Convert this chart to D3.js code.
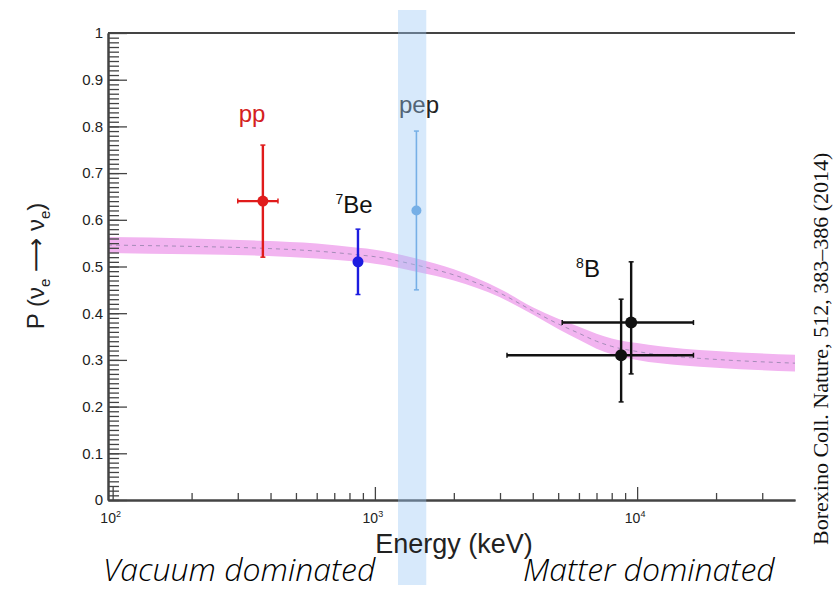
<!DOCTYPE html>
<html>
<head>
<meta charset="utf-8">
<script src="https://cdn.jsdelivr.net/npm/d3@7"></script>
<style>
  body { margin: 0; background: #fff; }
  svg { display: block; }
</style>
</head>
<body>
<div class="chart"></div>
<script>
// chart size
const WIDTH = 834;
const HEIGHT = 589;

// MSW-LMA prediction band
const curveE = [96, 200, 374, 600, 862, 1000, 1440, 2000, 3000, 4000, 5000, 6000, 7000, 8000, 10000, 15000, 20000, 40000];
const curveP = [0.546, 0.543, 0.539, 0.533, 0.525, 0.521, 0.503, 0.482, 0.443, 0.405, 0.377, 0.357, 0.340, 0.329, 0.318, 0.306, 0.301, 0.293];
const curveHalf = [0.017, 0.017, 0.016, 0.016, 0.015, 0.015, 0.014, 0.012, 0.009, 0.008, 0.011, 0.014, 0.016, 0.017, 0.018, 0.018, 0.018, 0.018];

// measured points
const ptSrc = ["pp", "7Be", "pep", "8B", "8B"];
const ptE = [374, 862, 1440, 8690, 9490];
const ptP = [0.64, 0.51, 0.62, 0.31, 0.38];
const ptLo = [0.52, 0.44, 0.45, 0.21, 0.27];
const ptHi = [0.76, 0.58, 0.79, 0.43, 0.51];
const ptELo = [300, null, null, 3190, 5180];
const ptEHi = [427, null, null, 16400, 16400];

// pep energy window
const pepBand = [1225, 1570];

// ticks
const yMajor = [0, 0.1, 0.2, 0.3, 0.4, 0.5, 0.6, 0.7, 0.8, 0.9, 1];
const yMajorLabels = ["0", "0.1", "0.2", "0.3", "0.4", "0.5", "0.6", "0.7", "0.8", "0.9", "1"];
const xMajor = [100, 1000, 10000];
const xMajorExp = ["2", "3", "4"];
const xMinor = [200, 300, 400, 500, 600, 700, 800, 900, 2000, 3000, 4000, 5000, 6000, 7000, 8000, 9000, 20000, 30000];

const styles = {
    pp:  { color: "#e01b1b", r: 5.5, w: 2.4 },
    "7Be": { color: "#1c1ce0", r: 5.5, w: 2.4 },
    pep: { color: "#5e9fdc", r: 5, w: 1.6 },
    "8B": { color: "#111111", r: 6, w: 2.4 }
};

const xScale = d3.scaleLog().domain([96, 40000]).range([108, 795]);
const yScale = d3.scaleLinear().domain([0, 1]).range([500, 33]);

const svg = d3.select(".chart")
    .append("svg")
    .attr("width", WIDTH)
    .attr("height", HEIGHT)
    .style("font-family", "'Liberation Sans', Arial, sans-serif");

// band
const band = d3.range(curveE.length).map(i => ({ e: curveE[i], p: curveP[i], h: curveHalf[i] }));
svg.append("path")
    .datum(band)
    .attr("fill", "#f2b4f0")
    .attr("d", d3.area()
        .x(d => xScale(d.e))
        .y0(d => yScale(d.p - d.h))
        .y1(d => yScale(d.p + d.h))
        .curve(d3.curveMonotoneX));
svg.append("path")
    .datum(band)
    .attr("fill", "none")
    .attr("stroke", "#a58cb8")
    .attr("stroke-width", 1)
    .attr("stroke-dasharray", "4,4")
    .attr("d", d3.line()
        .x(d => xScale(d.e))
        .y(d => yScale(d.p))
        .curve(d3.curveMonotoneX));

// axes
const axisColor = "#444";
const yMinor = d3.range(0, 100).map(i => i / 100);

const yMinorAxis = d3.axisLeft(yScale).tickValues(yMinor).tickSizeInner(-11).tickSizeOuter(0).tickFormat("");
const yMajorAxis = d3.axisLeft(yScale).tickValues(yMajor).tickSizeInner(-19).tickSizeOuter(0)
    .tickPadding(5).tickFormat((d, i) => yMajorLabels[i]);

const gyMinor = svg.append("g").attr("transform", "translate(108,0)").call(yMinorAxis);
const gyMajor = svg.append("g").attr("transform", "translate(108,0)").call(yMajorAxis);
[gyMinor, gyMajor].forEach(g => {
    g.selectAll("line").attr("stroke", axisColor).attr("stroke-width", 1.3);
    g.select(".domain").attr("stroke", axisColor).attr("stroke-width", 2);
});
gyMajor.selectAll("text")
    .attr("fill", "#222")
    .style("font-size", "15px")
    .style("font-family", "'Liberation Sans', Arial, sans-serif");

const xMinorAxis = d3.axisBottom(xScale).tickValues(xMinor).tickSizeInner(-7).tickSizeOuter(0).tickFormat("");
const xMajorAxis = d3.axisBottom(xScale).tickValues(xMajor).tickSizeInner(-13).tickSizeOuter(0).tickFormat("");
const gxMinor = svg.append("g").attr("transform", "translate(0,500)").call(xMinorAxis);
const gxMajor = svg.append("g").attr("transform", "translate(0,500)").call(xMajorAxis);
[gxMinor, gxMajor].forEach(g => {
    g.selectAll("line").attr("stroke", axisColor).attr("stroke-width", 1.3);
    g.select(".domain").attr("stroke", axisColor).attr("stroke-width", 2);
});

// x tick labels 10^n
const xl = svg.append("g").selectAll("text")
    .data(xMajor)
    .join("text")
    .attr("x", d => xScale(d) - 2)
    .attr("y", 523)
    .attr("text-anchor", "middle")
    .attr("fill", "#222")
    .style("font-size", "14px");
xl.append("tspan").text("10");
xl.append("tspan").attr("dy", -6).style("font-size", "9px").text((d, i) => xMajorExp[i]);

// top frame line
svg.append("line")
    .attr("x1", xScale.range()[0]).attr("x2", xScale.range()[1])
    .attr("y1", yScale(1)).attr("y2", yScale(1))
    .attr("stroke", axisColor).attr("stroke-width", 2);

// error bars + points
const pts = d3.range(ptE.length).map(i => ({
    src: ptSrc[i], e: ptE[i], p: ptP[i], lo: ptLo[i], hi: ptHi[i], elo: ptELo[i], ehi: ptEHi[i]
}));
const cap = 2.5;
const pg = svg.append("g");
pts.forEach(d => {
    const s = styles[d.src];
    const g = pg.append("g").attr("stroke", s.color).attr("stroke-width", s.w);
    const cx = xScale(d.e), cy = yScale(d.p);
    g.append("line").attr("x1", cx).attr("x2", cx).attr("y1", yScale(d.lo)).attr("y2", yScale(d.hi));
    g.append("line").attr("x1", cx - cap).attr("x2", cx + cap).attr("y1", yScale(d.lo)).attr("y2", yScale(d.lo)).attr("stroke-width", 1.5);
    g.append("line").attr("x1", cx - cap).attr("x2", cx + cap).attr("y1", yScale(d.hi)).attr("y2", yScale(d.hi)).attr("stroke-width", 1.5);
    if (d.elo != null) {
        g.append("line").attr("x1", xScale(d.elo)).attr("x2", xScale(d.ehi)).attr("y1", cy).attr("y2", cy);
        g.append("line").attr("x1", xScale(d.elo)).attr("x2", xScale(d.elo)).attr("y1", cy - cap).attr("y2", cy + cap).attr("stroke-width", 1.5);
        g.append("line").attr("x1", xScale(d.ehi)).attr("x2", xScale(d.ehi)).attr("y1", cy - cap).attr("y2", cy + cap).attr("stroke-width", 1.5);
    }
    pg.append("circle").attr("cx", cx).attr("cy", cy).attr("r", s.r).attr("fill", s.color);
});

// source labels
const labelPos = [
    { src: "pp", x: 252, y: 122, main: "pp", sup: "" },
    { src: "7Be", x: 354, y: 213, main: "Be", sup: "7" },
    { src: "pep", x: 419, y: 113, main: "pep", sup: "" },
    { src: "8B", x: 588, y: 277, main: "B", sup: "8" }
];
const labelColor = { pp: "#d42020", "7Be": "#111", pep: "#222", "8B": "#111" };
labelPos.forEach(l => {
    const t = svg.append("text")
        .attr("x", l.x).attr("y", l.y)
        .attr("text-anchor", "middle")
        .attr("fill", labelColor[l.src])
        .style("font-size", "24px");
    if (l.sup) t.append("tspan").attr("dy", -9).style("font-size", "14px").text(l.sup);
    t.append("tspan").attr("dy", l.sup ? 9 : 0).text(l.main);
});

// pep energy window, translucent over everything
svg.append("rect")
    .attr("x", xScale(pepBand[0]))
    .attr("width", xScale(pepBand[1]) - xScale(pepBand[0]))
    .attr("y", 10)
    .attr("height", 575)
    .attr("fill", "#9cc8f5")
    .attr("opacity", 0.4);

// axis titles
svg.append("text")
    .attr("x", 454).attr("y", 553)
    .attr("text-anchor", "middle")
    .attr("fill", "#222")
    .style("font-size", "27px")
    .text("Energy (keV)");

const yl = svg.append("text")
    .attr("transform", "translate(44,266) rotate(-90)")
    .attr("text-anchor", "middle")
    .attr("fill", "#222")
    .style("font-size", "24px");
yl.append("tspan").text("P (ν");
yl.append("tspan").attr("dy", 6).style("font-size", "15px").text("e");
yl.append("tspan").attr("dy", -6).text(" ");
yl.append("tspan").style("font-family", "'DejaVu Sans', sans-serif").text("⟶");
yl.append("tspan").text(" ν");
yl.append("tspan").attr("dy", 6).style("font-size", "15px").text("e");
yl.append("tspan").attr("dy", -6).text(")");

// regime notes
svg.append("text")
    .attr("x", 103).attr("y", 581)
    .attr("fill", "#000")
    .style("font-family", "'Open Sans', sans-serif")
    .style("font-style", "italic")
    .style("font-weight", 300)
    .style("font-size", "32px")
    .text("Vacuum dominated");
svg.append("text")
    .attr("x", 523).attr("y", 581)
    .attr("fill", "#000")
    .style("font-family", "'Open Sans', sans-serif")
    .style("font-style", "italic")
    .style("font-weight", 300)
    .style("font-size", "32px")
    .text("Matter dominated");

// citation
svg.append("text")
    .attr("transform", "translate(828,545) rotate(-90)")
    .attr("fill", "#111")
    .style("font-family", "'Liberation Serif', 'Times New Roman', serif")
    .style("font-size", "22px")
    .text("Borexino Coll. Nature, 512, 383–386 (2014)");
</script>
</body>
</html>
